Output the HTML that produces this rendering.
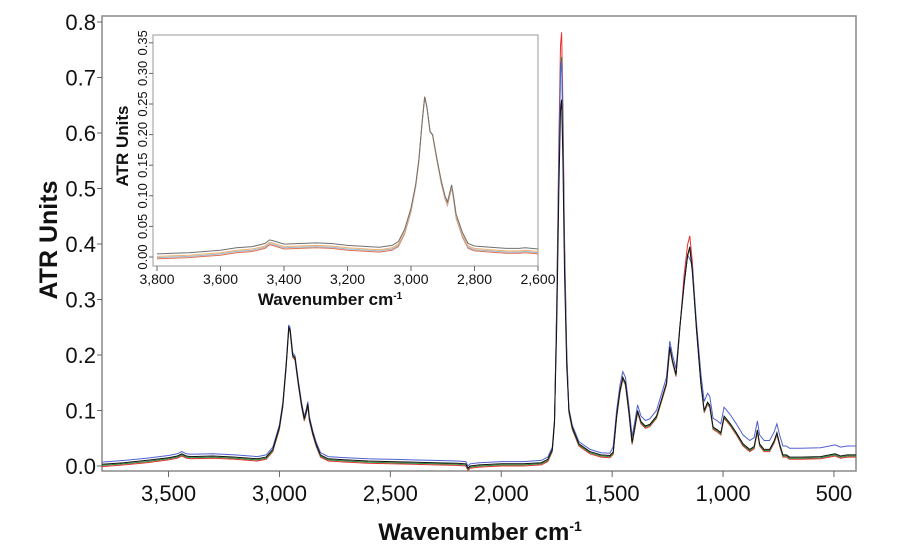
<!DOCTYPE html>
<html><head><meta charset="utf-8"><style>
html,body{margin:0;padding:0;background:#fff}
svg{display:block;font-family:"Liberation Sans",sans-serif}
</style></head><body>
<svg id="s" width="900" height="550" viewBox="0 0 900 550">
<rect x="0" y="0" width="900" height="550" fill="#fff"/>
<rect x="102" y="16" width="754" height="455" fill="none" stroke="#888" stroke-width="1.5"/>
<g id="mainTicks" font-size="22" fill="#111"></g>
<text x="0" y="0" transform="translate(57,240) rotate(-90)" text-anchor="middle" font-size="25" font-weight="bold" fill="#111">ATR Units</text>
<text x="480" y="540" text-anchor="middle" font-size="24" font-weight="bold" fill="#111">Wavenumber cm<tspan dy="-9" font-size="14">-1</tspan></text>
<g id="mainCurves" fill="none" stroke-width="1"></g>
<rect x="153" y="35" width="385" height="231" fill="#fff" stroke="#aaa" stroke-width="1.2"/>
<g id="insetTicks" font-size="14" fill="#111"></g>
<text transform="translate(128,146) rotate(-90)" text-anchor="middle" font-size="17" font-weight="bold" fill="#111">ATR Units</text>
<text x="330" y="305" text-anchor="middle" font-size="17" font-weight="bold" fill="#111">Wavenumber cm<tspan dy="-6" font-size="10">-1</tspan></text>
<g id="insetCurves" fill="none" stroke-width="1"></g>
</svg>
<script>
var NS="http://www.w3.org/2000/svg";
function el(t,a,p){var e=document.createElementNS(NS,t);for(var k in a)e.setAttribute(k,a[k]);p.appendChild(e);return e;}
var mx=function(w){return 102+(3800-w)*0.2218;}, my=function(v){return 466-v*555;};
var mt=document.getElementById('mainTicks');
for(var i=0;i<=8;i++){var y=my(i/10);el('line',{x1:97,x2:102,y1:y,y2:y,stroke:'#666'},mt);var t=el('text',{x:96,y:y+8,'text-anchor':'end'},mt);t.textContent=(i/10).toFixed(1);}
var labs=['3,500','3,000','2,500','2,000','1,500','1,000','500'];
for(var i=0;i<7;i++){var w=3500-500*i,x=mx(w);el('line',{x1:x,x2:x,y1:471,y2:477,stroke:'#666'},mt);var t=el('text',{x:x,y:501,'text-anchor':'middle'},mt);t.textContent=labs[i];}
var B=[[3800,0.003],[3700,0.006],[3600,0.01],[3500,0.015],[3460,0.018],[3440,0.022],[3420,0.018],[3400,0.017],[3300,0.018],[3200,0.016],[3100,0.013],[3060,0.016],[3030,0.03],[3000,0.07],[2985,0.11],[2970,0.18],[2958,0.25],[2952,0.245],[2940,0.2],[2930,0.195],[2915,0.15],[2900,0.11],[2888,0.085],[2878,0.1],[2872,0.112],[2865,0.085],[2850,0.06],[2835,0.04],[2815,0.02],[2780,0.013],[2700,0.011],[2600,0.009],[2500,0.008],[2400,0.007],[2300,0.006],[2200,0.005],[2160,0.004],[2150,-0.004],[2140,0.0],[2100,0.002],[2000,0.004],[1900,0.004],[1820,0.006],[1790,0.012],[1770,0.03],[1760,0.08],[1750,0.25],[1740,0.5],[1733,0.64],[1728,0.66],[1722,0.55],[1715,0.35],[1705,0.18],[1695,0.1],[1680,0.07],[1650,0.04],[1600,0.026],[1550,0.02],[1510,0.019],[1495,0.025],[1480,0.09],[1465,0.135],[1452,0.16],[1440,0.15],[1425,0.1],[1410,0.043],[1398,0.07],[1385,0.1],[1370,0.08],[1350,0.072],[1330,0.075],[1300,0.09],[1270,0.13],[1255,0.15],[1240,0.215],[1228,0.19],[1212,0.165],[1195,0.25],[1175,0.33],[1160,0.38],[1150,0.395],[1138,0.35],[1120,0.25],[1100,0.15],[1085,0.1],[1070,0.115],[1060,0.11],[1045,0.07],[1025,0.065],[1010,0.06],[995,0.09],[985,0.085],[965,0.075],[940,0.06],[910,0.04],[880,0.03],[860,0.035],[845,0.065],[835,0.04],[815,0.03],[790,0.03],[770,0.045],[757,0.06],[745,0.04],[730,0.02],[715,0.02],[700,0.016],[650,0.016],[560,0.017],[520,0.02],[495,0.022],[470,0.018],[440,0.02],[400,0.02]];
function series(f){var d='';for(var i=0;i<B.length;i++){var w=B[i][0],v=f(w,B[i][1]);d+=(i?'L':'M')+mx(w).toFixed(1)+','+my(v).toFixed(1);}return d;}
var mc=document.getElementById('mainCurves');
function co(w,v,k){return (w>1700&&w<1760)?v*k:v;}
el('path',{d:series(function(w,v){v=co(w,v,1.19);if(w<1200&&w>1100&&v>0.3)v*=1.06;return v-0.004;}),stroke:'#e83030'},mc);
el('path',{d:series(function(w,v){v=co(w,v,1.12);return v-0.002;}),stroke:'#2a8a3a'},mc);
el('path',{d:series(function(w,v){v=co(w,v,1.1);var o=w<1500?(w<1120?0.016:0.01):0.004;if(w>2320&&w<2380)o+=0.012;if(w>1150&&w<1200)o=0;if(w>1140&&w<1160)v*=0.92;return v+o;}),stroke:'#5060d0'},mc);
el('path',{d:series(function(w,v){return v;}),stroke:'#111'},mc);
var ix=function(w){return 157+(3800-w)*0.3175;}, iy=function(v){return 257-v*612;};
var it=document.getElementById('insetTicks');
for(var i=0;i<=7;i++){var v=i*0.05,y=iy(v);el('line',{x1:149,x2:153,y1:y,y2:y,stroke:'#666'},it);var t=el('text',{transform:'translate(147,'+y+') rotate(-90)','text-anchor':'middle','font-size':'13'},it);t.textContent=v.toFixed(2);}
var il=['3,800','3,600','3,400','3,200','3,000','2,800','2,600'];
for(var i=0;i<7;i++){var x=ix(3800-200*i);el('line',{x1:x,x2:x,y1:266,y2:271,stroke:'#666'},it);var t=el('text',{x:x,y:284,'text-anchor':'middle'},it);t.textContent=il[i];}
var I=[[3800,0.005],[3750,0.006],[3700,0.007],[3650,0.009],[3600,0.011],[3550,0.015],[3500,0.017],[3460,0.022],[3445,0.028],[3430,0.026],[3400,0.021],[3300,0.023],[3250,0.022],[3200,0.019],[3100,0.016],[3060,0.019],[3040,0.025],[3020,0.045],[3000,0.08],[2985,0.12],[2975,0.16],[2965,0.22],[2957,0.262],[2950,0.245],[2940,0.205],[2932,0.2],[2920,0.165],[2905,0.125],[2893,0.1],[2885,0.09],[2878,0.105],[2872,0.118],[2866,0.1],[2858,0.07],[2848,0.055],[2838,0.04],[2820,0.022],[2800,0.018],[2750,0.016],[2700,0.014],[2660,0.014],[2640,0.015],[2600,0.013]];
var ic=document.getElementById('insetCurves');
function iser(off){var d='';for(var i=0;i<I.length;i++){var w=I[i][0],v=I[i][1];var o=off*(1-Math.min(1,Math.max(0,(v-0.03)/0.2)));d+=(i?'L':'M')+ix(w).toFixed(1)+','+iy(v-o).toFixed(1);}return d;}
el('path',{d:iser(0.008),stroke:'#e07050'},ic);
el('path',{d:iser(0.006),stroke:'#9ab8d0'},ic);
el('path',{d:iser(0.004),stroke:'#f0b070'},ic);
el('path',{d:iser(0),stroke:'#707070'},ic);
</script>
</body></html>
